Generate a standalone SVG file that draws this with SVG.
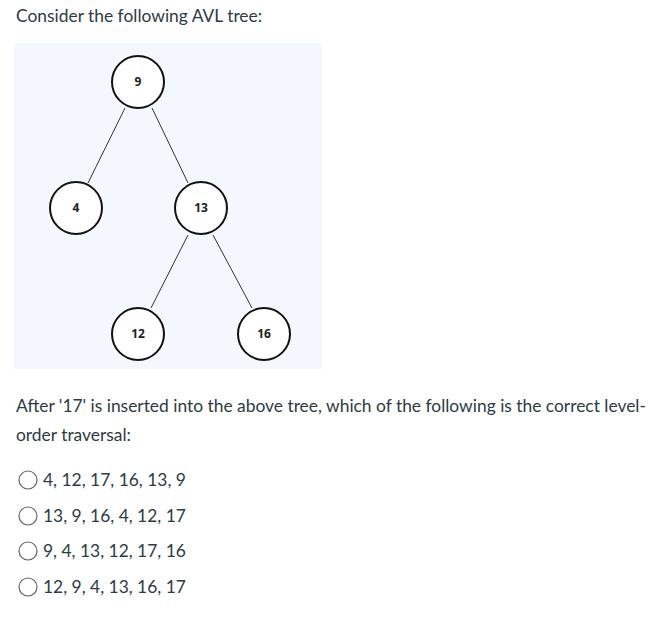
<svg xmlns="http://www.w3.org/2000/svg" width="671" height="621" viewBox="0 0 671 621">
<style>
.t{font-family:Lato,"Liberation Sans",sans-serif;font-size:17.4px;fill:#2d3b45}
.n circle{fill:#fff;stroke:#111;stroke-width:2}
.n text{font-family:"Open Sans","Liberation Sans",sans-serif;font-size:12px;font-weight:bold;fill:#222;text-anchor:middle}
.e line{stroke:#333;stroke-width:1}
.r{fill:#fff;stroke:#666;stroke-width:1.2}
</style>
<rect width="671" height="621" fill="#fff"/>
<text class="t" x="16" y="22">Consider the following AVL tree:</text>
<rect x="14" y="43" width="308" height="326" fill="#f4f7fe"/>
<g id="edges" class="e">
<line x1="125" y1="108" x2="88" y2="183"/>
<line x1="152" y1="108" x2="188" y2="183"/>
<line x1="188" y1="235" x2="151" y2="308"/>
<line x1="213" y1="235" x2="252" y2="308"/>
</g>
<g id="n9" class="n"><circle cx="138" cy="82" r="26"/><text x="138" y="86">9</text></g>
<g id="n4" class="n"><circle cx="76" cy="208" r="26"/><text x="76" y="212">4</text></g>
<g id="n13" class="n"><circle cx="201" cy="208" r="26"/><text x="201" y="212">13</text></g>
<g id="n12" class="n"><circle cx="138" cy="334" r="26"/><text x="138" y="338">12</text></g>
<g id="n16" class="n"><circle cx="264" cy="334" r="26"/><text x="264" y="338">16</text></g>
<text class="t" x="16" y="412">After '17' is inserted into the above tree, which of the following is the correct level-</text>
<text class="t" x="16" y="441">order traversal:</text>
<circle class="r" cx="28" cy="480" r="9"/><text class="t" x="43" y="486">4, 12, 17, 16, 13, 9</text>
<circle class="r" cx="28" cy="516" r="9"/><text class="t" x="43" y="522">13, 9, 16, 4, 12, 17</text>
<circle class="r" cx="28" cy="551" r="9"/><text class="t" x="43" y="557">9, 4, 13, 12, 17, 16</text>
<circle class="r" cx="28" cy="587" r="9"/><text class="t" x="43" y="593">12, 9, 4, 13, 16, 17</text>
</svg>
